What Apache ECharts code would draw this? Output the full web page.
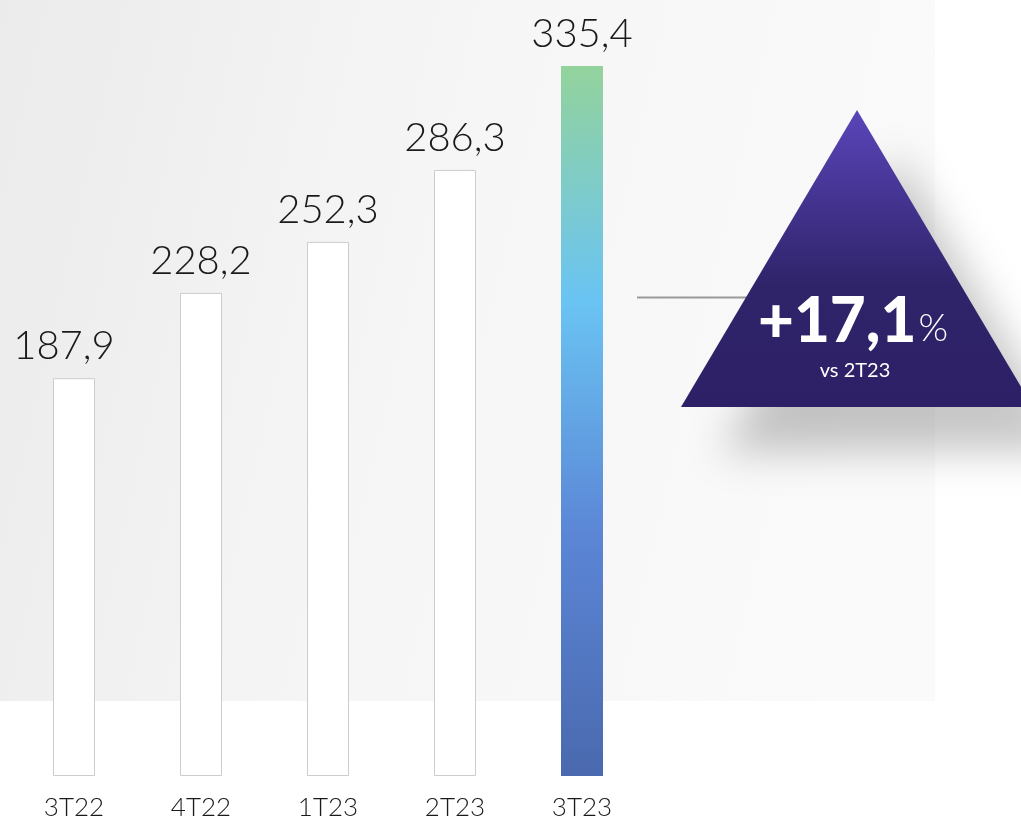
<!DOCTYPE html>
<html>
<head>
<meta charset="utf-8">
<script src="https://cdn.jsdelivr.net/npm/echarts@6/dist/echarts.min.js"></script>
<style>
html,body{margin:0;padding:0;background:#fff;}
#chart{width:1021px;height:821px;}
</style>
</head>
<body>
<div id="chart"></div>
<script>
var categories = ['3T22', '4T22', '1T23', '2T23', '3T23'];
var values = [187.9, 228.2, 252.3, 286.3, 335.4];
var valueLabels = ['187,9', '228,2', '252,3', '286,3', '335,4'];
var growthText = '+17,1';
var growthSub = 'vs 2T23';

var FONT = 'Lato, "Open Sans", sans-serif';
var chart = echarts.init(document.getElementById('chart'));

var lastGradient = new echarts.graphic.LinearGradient(0, 0, 0, 1, [
  {offset: 0, color: '#93d39c'},
  {offset: 0.33, color: '#6ac4f3'},
  {offset: 0.66, color: '#5b86d6'},
  {offset: 1, color: '#4a69ae'}
]);

var data = values.map(function (v, i) {
  var last = i === values.length - 1;
  var item = {
    value: v,
    itemStyle: last ? {color: lastGradient, borderWidth: 0} :
      {color: '#ffffff', borderColor: '#cccccc', borderWidth: 1}
  };
  if (i === 0) { item.label = {offset: [-10, 0]}; }
  return item;
});

chart.setOption({
  animation: false,
  grid: {left: 10.5, right: 375.5, top: 66, bottom: 44},
  xAxis: {
    type: 'category',
    data: categories,
    axisLine: {show: false},
    axisTick: {show: false},
    axisLabel: {fontFamily: FONT, fontSize: 26, color: '#1a1a1a', margin: 19, fontWeight: 300}
  },
  yAxis: {
    type: 'value', min: 0, max: 335.4,
    show: false, splitLine: {show: false}
  },
  graphic: [
    {
      type: 'rect', z: -10, silent: true,
      shape: {x: 0, y: 0, width: 935, height: 701},
      style: {
        fill: new echarts.graphic.LinearGradient(0, 0, 1, 0.3, [
          {offset: 0, color: '#ebebeb'},
          {offset: 0.5, color: '#f6f6f6'},
          {offset: 1, color: '#fafafa'}
        ])
      }
    },
    {
      type: 'line', z: 5, silent: true,
      shape: {x1: 637, y1: 297.5, x2: 760, y2: 297.5},
      style: {stroke: '#9a9a9a', lineWidth: 2}
    },
    {
      type: 'polygon', z: 10, silent: true,
      shape: {points: [[857, 110], [681, 407], [1033, 407]]},
      style: {
        fill: new echarts.graphic.LinearGradient(0, 0, 0, 1, [
          {offset: 0, color: '#5a45b9'},
          {offset: 0.6, color: '#2f2369'},
          {offset: 1, color: '#2d2066'}
        ]),
        shadowBlur: 40, shadowOffsetX: 40, shadowOffsetY: 45,
        shadowColor: 'rgba(0,0,0,0.22)'
      }
    },
    {
      type: 'text', z: 12, silent: true,
      x: 853, y: 322,
      style: {
        text: '{a|' + growthText + '}{b|%}',
        align: 'center', verticalAlign: 'middle',
        rich: {
          a: {fontFamily: FONT, fontSize: 62, fontWeight: 900, fill: '#fff', color: '#fff'},
          b: {fontFamily: FONT, fontSize: 38, fontWeight: 300, fill: '#fff', color: '#fff', padding: [14, 0, 0, 2]}
        }
      }
    },
    {
      type: 'text', z: 12, silent: true,
      x: 855, y: 371,
      style: {
        text: growthSub, align: 'center', verticalAlign: 'middle',
        fontFamily: FONT, fontSize: 20, fill: '#fff'
      }
    }
  ],
  series: [{
    type: 'bar',
    barWidth: 42,
    data: data,
    label: {
      show: true, position: 'top', distance: 12,
      fontFamily: FONT, fontSize: 40, fontWeight: 300, color: '#1a1a1a',
      formatter: function (p) { return valueLabels[p.dataIndex]; }
    }
  }]
});
</script>
</body>
</html>
